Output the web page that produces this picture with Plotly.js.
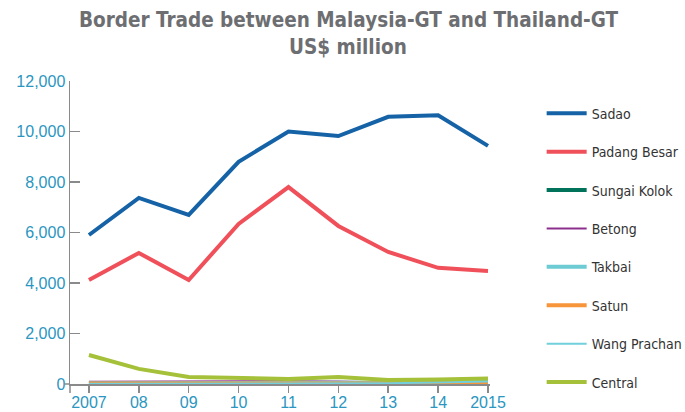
<!DOCTYPE html>
<html><head><meta charset="utf-8">
<script src="https://cdn.plot.ly/plotly-3.0.1.min.js"></script>
<style>body{margin:0;background:#fff}#c{width:685px;height:412px}</style>
</head><body><div id="c"></div>
<script>
const years = [2007,2008,2009,2010,2011,2012,2013,2014,2015];
const yearLabels = ["2007","08","09","10","11","12","13","14","2015"];
const sadao = [5900,7370,6700,8800,10000,9820,10580,10640,9430];
const padangBesar = [4120,5190,4120,6340,7800,6260,5230,4600,4480];
const sungaiKolok = [30,30,40,40,40,30,30,30,30];
const betong = [90,100,110,100,110,100,60,50,40];
const takbai = [30,30,40,40,50,40,50,60,80];
const satun = [20,20,20,20,20,20,20,20,20];
const wangPrachan = [10,10,10,20,20,20,30,60,100];
const central = [1150,600,280,240,200,280,160,180,220];

const series = [
  {name:"Sadao", y:sadao, color:"#1563a6", w:4},
  {name:"Padang Besar", y:padangBesar, color:"#f0505a", w:4},
  {name:"Sungai Kolok", y:sungaiKolok, color:"#00735a", w:4},
  {name:"Betong", y:betong, color:"#8b2f8d", w:2},
  {name:"Takbai", y:takbai, color:"#6ccbd3", w:4},
  {name:"Satun", y:satun, color:"#f7953a", w:4},
  {name:"Wang Prachan", y:wangPrachan, color:"#72cfdc", w:2},
  {name:"Central", y:central, color:"#a5c13a", w:4}
];
const traces = series.map((s,i)=>({
  x: years, y: s.y, name: s.name, type:"scatter", mode:"lines",
  line:{color:s.color, width:s.w}, legendgroup:"g"+i
}));
const tickColor = "#2b96bf";
const condensed = "DejaVu Sans Condensed, Liberation Sans Narrow, sans-serif";
const layout = {
  width:685, height:412,
  margin:{l:70, r:195, t:81, b:28, autoexpand:false},
  paper_bgcolor:"#fff", plot_bgcolor:"#fff",
  font:{family:condensed, color:"#333"},
  showlegend:true,
  legend:{x:1.123, xanchor:"left", y:0.945, yanchor:"top", tracegroupgap:17.2,
    font:{size:14, color:"#333", family:condensed}, itemwidth:40},
  xaxis:{range:[2006.62,2015.04], tickvals:years, ticktext:yearLabels,
    showgrid:false, zeroline:false, showline:true, linecolor:"#8a8a8a", linewidth:1.5,
    ticks:"outside", ticklen:7, tickcolor:"#8a8a8a", tickwidth:1.5, ticklabelstandoff:-4,
    tickfont:{size:16, color:tickColor, family:"Liberation Sans, Arial, sans-serif"}},
  yaxis:{range:[0,12000], tickvals:[0,2000,4000,6000,8000,10000,12000], tickformat:",",
    showgrid:false, zeroline:false, showline:true, linecolor:"#8a8a8a", linewidth:1.5,
    ticks:"inside", ticklen:10, tickcolor:"#8a8a8a", tickwidth:1.5,
    tickfont:{size:16, color:tickColor, family:"Liberation Sans, Arial, sans-serif"}},
  annotations:[
    {text:"<b>Border Trade between Malaysia-GT and Thailand-GT</b>", xref:"paper", yref:"paper",
     x:(349-70)/420, y:(384-20)/303, xanchor:"center", yanchor:"middle", showarrow:false,
     font:{size:20.5, color:"#6d6e71", family:condensed}},
    {text:"<b>US$ million</b>", xref:"paper", yref:"paper",
     x:(348-70)/420, y:(384-47)/303, xanchor:"center", yanchor:"middle", showarrow:false,
     font:{size:20.5, color:"#6d6e71", family:condensed}}
  ],
  shapes:[
    {type:"line", xref:"paper", yref:"paper", x0:-0.014, x1:0, y0:0, y1:0, line:{color:"#8a8a8a", width:1.5}},
    {type:"line", xref:"paper", yref:"paper", x0:0, x1:0, y0:0, y1:-0.03, line:{color:"#8a8a8a", width:1.5}}
  ]
};
Plotly.newPlot("c", traces, layout, {displayModeBar:false, staticPlot:true});
</script></body></html>
